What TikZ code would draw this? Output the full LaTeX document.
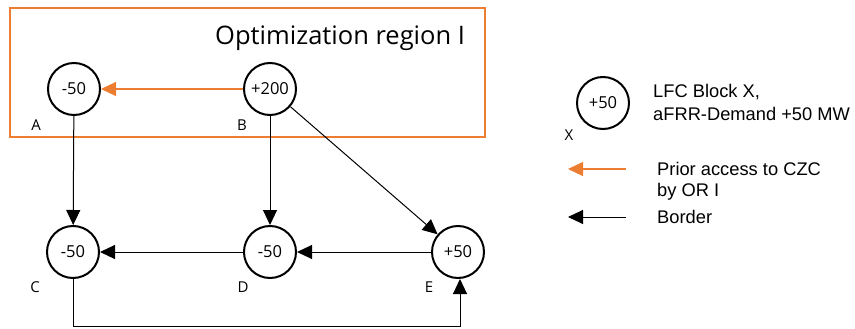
\documentclass[tikz,border=0pt]{standalone}
\usepackage{fontspec}
\setmainfont{Open Sans}
\newfontfamily\legendfont{Liberation Sans}
\usetikzlibrary{arrows.meta}
\definecolor{orOrange}{RGB}{237,125,49}
\tikzset{
  block/.style={circle, draw=black, line width=2pt, minimum size=52pt, inner sep=0pt, font=\fontsize{16.5}{19}\selectfont},
  blabel/.style={font=\fontsize{15}{17}\selectfont},
  border/.style={draw=black, line width=1pt, -{Triangle[length=15pt,width=14pt]}},
  prior/.style={draw=orOrange, line width=1.2pt, -{Triangle[length=15pt,width=14pt]}},
  legtext/.style={font=\legendfont\fontsize{18.3}{21}\selectfont, anchor=west, inner sep=0pt},
}
\begin{document}
\begin{tikzpicture}[x=1pt, y=-1pt]
\useasboundingbox (0,0) rectangle (855,329);

% optimization region frame and title
\draw[orOrange, line width=2pt] (10,8) rectangle (485,137);
\node[anchor=base west, inner sep=0pt, font=\fontsize{25.5}{30}\selectfont] (title) at (215,45) {Optimization region I};

% LFC blocks
\node[block] (A) at (74,89) {-50};
\node[block] (B) at (270,89) {+200};
\node[block] (C) at (73,252) {-50};
\node[block] (D) at (270,252) {-50};
\node[block] (E) at (458,252) {+50};

\node[blabel] (lA) at (36,125) {A};
\node[blabel] (lB) at (242,125) {B};
\node[blabel] (lC) at (35,287) {C};
\node[blabel] (lD) at (243,287) {D};
\node[blabel] (lE) at (429,287) {E};

% borders
\draw[border] (A) -- (C);
\draw[border] (B) -- (D);
\draw[border] (B) -- (E);
\draw[border] (E) -- (D);
\draw[border] (D) -- (C);
\coordinate (cbot) at (73,326);
\coordinate (ebot) at (460,326);
\coordinate (etop) at (460,279);
\draw[border] (C.south) -- (cbot) -- (ebot) -- (etop);

% prior access
\draw[prior] (B) -- (A);

% legend
\node[block] (X) at (603,103) {+50};
\node[blabel] (lX) at (569,135) {X};
\node[legtext] (t1) at (653,92) {LFC Block X,};
\node[legtext] (t2) at (653,114) {aFRR-Demand +50 MW};

\coordinate (po1) at (626,169);
\coordinate (po2) at (568,169);
\draw[prior] (po1) -- (po2);
\node[legtext] (t3) at (657,169) {Prior access to CZC};
\node[legtext] (t4) at (657,192) {by OR I};

\coordinate (bo1) at (626,217);
\coordinate (bo2) at (568,217);
\draw[border] (bo1) -- (bo2);
\node[legtext] (t5) at (657,217) {Border};
\end{tikzpicture}
\end{document}
